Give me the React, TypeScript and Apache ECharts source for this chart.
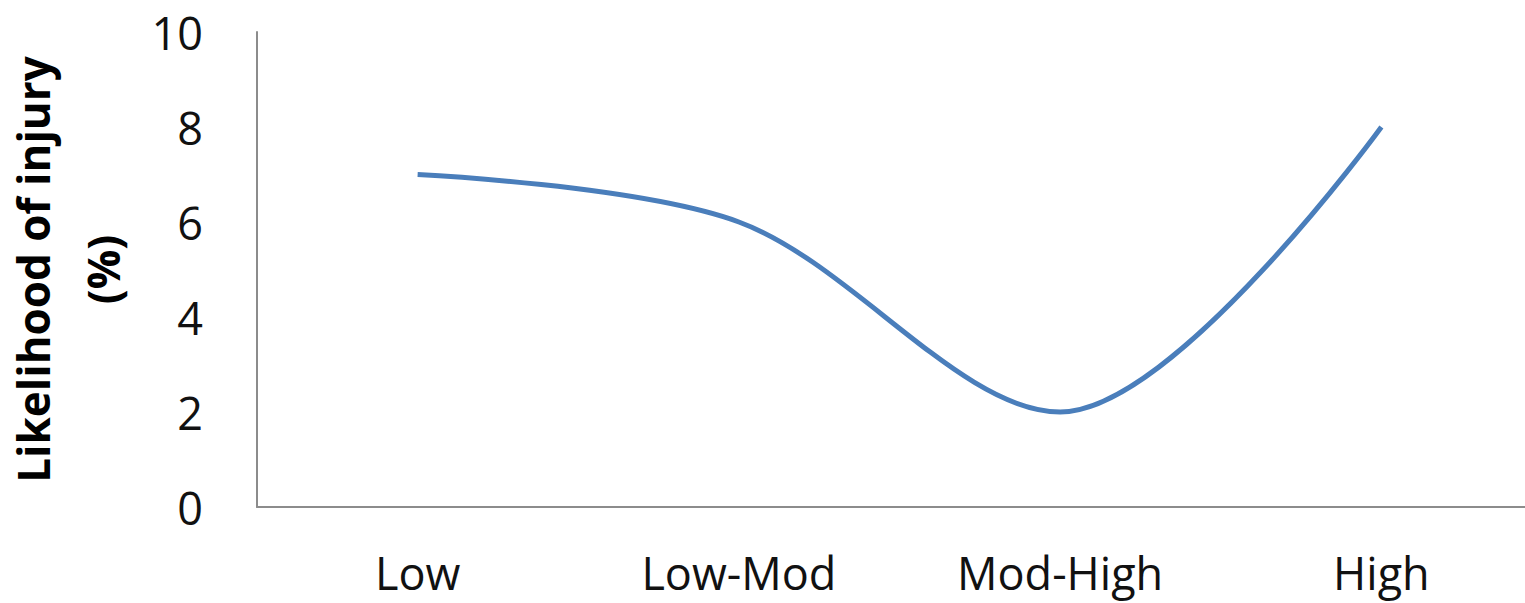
import React, { useEffect, useRef } from "react";
import * as echarts from "echarts";

const categories = ["Low", "Low-Mod", "Mod-High", "High"];
const likelihood = [7, 6, 2, 8];
const yTicks = { min: 0, max: 10, interval: 2 };

const FONT = "'Open Sans', 'Noto Sans', sans-serif";

export default function App() {
  const ref = useRef<HTMLDivElement>(null);

  useEffect(() => {
    document.body.style.margin = "0";
    if (!ref.current) return;
    const chart = echarts.init(ref.current, null, { renderer: "svg" });
    chart.setOption({
      animation: false,
      backgroundColor: "#ffffff",
      grid: {
        left: 257,
        top: 32,
        bottom: 96,
        right: -17,
        containLabel: false,
        outerBoundsMode: "none",
      },
      xAxis: {
        type: "category",
        data: categories,
        boundaryGap: true,
        axisLine: { show: true, lineStyle: { color: "#8c8c8c", width: 2 } },
        axisTick: { show: false },
        axisLabel: {
          color: "#111111",
          fontFamily: FONT,
          fontSize: 45,
          lineHeight: 46,
          margin: 42,
          interval: 0,
        },
      },
      yAxis: {
        type: "value",
        min: yTicks.min,
        max: yTicks.max,
        interval: yTicks.interval,
        splitLine: { show: false },
        axisLine: { show: true, lineStyle: { color: "#8c8c8c", width: 2 } },
        axisTick: { show: false },
        axisLabel: {
          color: "#111111",
          fontFamily: FONT,
          fontSize: 45,
          margin: 54,
        },
        name: "Likelihood of injury\n(%)",
        nameLocation: "middle",
        nameRotate: 90,
        nameGap: 119,
        nameTextStyle: {
          color: "#000000",
          fontFamily: FONT,
          fontSize: 44,
          fontWeight: "bold",
          lineHeight: 70,
          align: "center",
        },
      },
      series: [
        {
          type: "line",
          data: likelihood,
          smooth: 0.33,
          symbol: "none",
          lineStyle: { color: "#4a7ebb", width: 5 },
        },
      ],
    });
    return () => chart.dispose();
  }, []);

  return <div ref={ref} style={{ width: 1525, height: 603 }} />;
}
